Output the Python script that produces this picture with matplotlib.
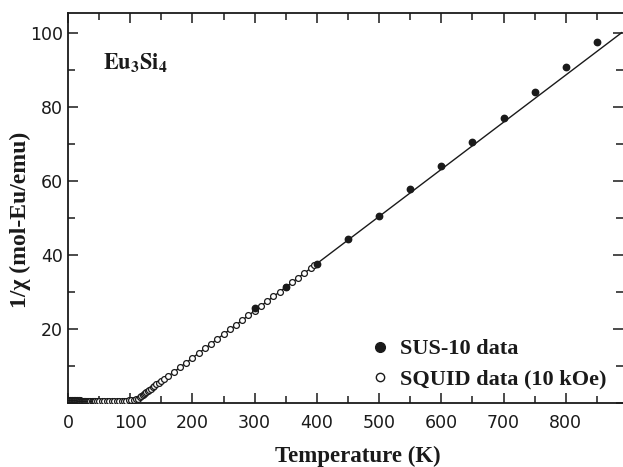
import matplotlib
matplotlib.use("Agg")
import matplotlib.pyplot as plt
from matplotlib.lines import Line2D
from matplotlib.ticker import MultipleLocator

# ---- data ----
sus_T = [300, 350, 400, 450, 500, 550, 600, 650, 700, 750, 800, 850]
sus_y = [25.7, 31.3, 37.6, 44.4, 50.6, 57.8, 63.9, 70.4, 77.0, 84.1, 90.8, 97.5]

squid_T = [2, 3, 4, 5, 6, 7, 8, 9, 10, 11, 12, 13, 14, 15, 16, 17, 18, 19, 20,
           21, 22, 23, 24, 25, 26, 27, 28, 29, 30, 32, 34, 36, 38, 40, 42, 44,
           47, 50, 54, 58, 62, 66, 70, 74, 78, 82, 86, 90, 94, 98, 102, 106,
           110, 113, 116, 118, 120, 122, 124, 126, 128, 130, 133, 136, 139,
           142, 146, 150, 155, 160, 170, 180, 190, 200, 210, 220, 230, 240,
           250, 260, 270, 280, 290, 300, 310, 320, 330, 340, 350, 360, 370,
           380, 390, 396]
squid_y = [0.7, 0.7, 0.7, 0.7, 0.7, 0.7, 0.7, 0.7, 0.7, 0.7, 0.7, 0.7, 0.7,
           0.7, 0.7, 0.7, 0.7, 0.7, 0.65, 0.65, 0.65, 0.65, 0.65, 0.65, 0.6,
           0.6, 0.6, 0.6, 0.6, 0.6, 0.6, 0.6, 0.55, 0.55, 0.55, 0.55, 0.55,
           0.5, 0.5, 0.5, 0.5, 0.5, 0.5, 0.5, 0.55, 0.55, 0.6, 0.6, 0.65, 0.7,
           0.75, 0.85, 1.0, 1.2, 1.5, 1.8, 2.1, 2.4, 2.7, 2.95, 3.2, 3.5, 3.85,
           4.2, 4.6, 5.0, 5.5, 6.0, 6.6, 7.2, 8.4, 9.6, 10.9, 12.2, 13.5, 14.8,
           16.0, 17.3, 18.6, 19.9, 21.1, 22.4, 23.7, 24.9, 26.2, 27.5, 28.8,
           30.0, 31.3, 32.6, 33.8, 35.1, 36.4, 37.2]

fit_T = [104.3, 890]
fit_y = [0, 100]

x_ticks = [0, 100, 200, 300, 400, 500, 600, 700, 800]
y_ticks = [20, 40, 60, 80, 100]

# ---- figure ----
plt.rcParams['mathtext.fontset'] = 'stix'
fig = plt.figure(figsize=(6.23, 4.67), dpi=100)
ax = fig.add_axes([68/623, 64/467, (623-68)/623, 390/467])

ax.plot(fit_T, fit_y, color='#1a1a1a', lw=1.0, zorder=2)
ax.plot(squid_T, squid_y, ls='none', marker='o', ms=4.2, mfc='white',
        mec='#1a1a1a', mew=0.9, zorder=3)
ax.plot(sus_T, sus_y, ls='none', marker='o', ms=4.6, mfc='#1a1a1a',
        mec='#1a1a1a', zorder=4)

ax.set_xlim(0, 892)
ax.set_ylim(0, 105.3)
ax.set_xticks(x_ticks)
ax.set_yticks(y_ticks)
ax.xaxis.set_minor_locator(MultipleLocator(50))
ax.yaxis.set_minor_locator(MultipleLocator(10))
ax.tick_params(which='both', direction='in', top=True, right=True,
               width=1.1, labelsize=12.5, colors='#1a1a1a')
ax.tick_params(which='major', length=7)
ax.tick_params(which='minor', length=5)
ax.tick_params(axis='x', pad=8)
for s in ['left', 'bottom', 'top']:
    ax.spines[s].set_linewidth(1.3)
    ax.spines[s].set_color('#1a1a1a')
ax.spines['right'].set_visible(False)

serif_bold = dict(family='Liberation Serif', weight='bold', color='#1a1a1a')
fig.text(358/623, 5/467, 'Temperature (K)', ha='center', va='baseline',
         fontsize=16.5, **serif_bold)
fig.text(20/623, 1 - 220/467, '1/χ (mol-Eu/emu)', rotation=90, ha='center',
         va='center', fontsize=17, **serif_bold)

ax.text(103/623, 1 - 63/467, r'$\mathbf{Eu_3Si_4}$', transform=fig.transFigure,
        fontsize=16, ha='left', va='center', color='#1a1a1a')

handles = [Line2D([], [], ls='none', marker='o', ms=7, mfc='#1a1a1a', mec='#1a1a1a'),
           Line2D([], [], ls='none', marker='o', ms=6, mfc='white', mec='#1a1a1a', mew=1.0)]
leg = ax.legend(handles, ['SUS-10 data', 'SQUID data (10 kOe)'],
                loc='lower left', bbox_to_anchor=(356/623, 1 - 401/467),
                bbox_transform=fig.transFigure, frameon=False,
                prop=dict(family='Liberation Serif', weight='bold', size=16),
                handletextpad=0.3, labelspacing=0.45, borderpad=0, handlelength=1.2)
for t in leg.get_texts():
    t.set_color('#1a1a1a')

fig.savefig('out.png', dpi=100)
